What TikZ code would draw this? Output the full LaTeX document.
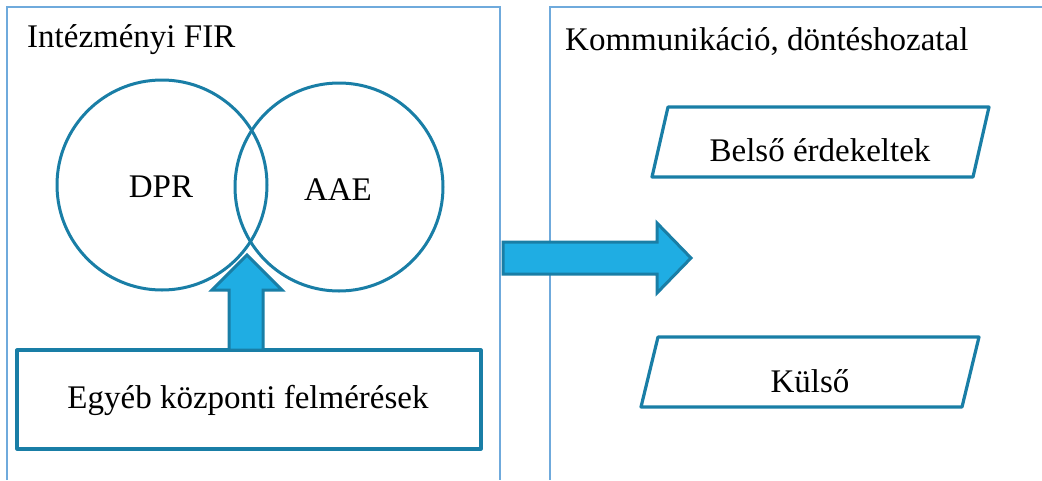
\documentclass[tikz,border=0pt]{standalone}
\usepackage{fontspec}
\setmainfont{Liberation Serif}
\begin{document}
\begin{tikzpicture}[x=1pt,y=-1pt,
  panelline/.style={draw=panelblue,line width=1.6pt},
  ring/.style={draw=darkblue,line width=3pt},
  boxline/.style={draw=darkblue,line width=3.2pt,line join=round},
  blockarrow/.style={fill=arrowfill,draw=darkblue,line width=3pt,line join=miter},
  lbl/.style={font=\fontsize{33}{39}\selectfont,inner sep=0pt}]
\definecolor{panelblue}{HTML}{6FAADC}
\definecolor{darkblue}{HTML}{197EA6}
\definecolor{arrowfill}{HTML}{1FADE3}
\useasboundingbox (0,0) rectangle (1042,480);

% two open panels
\draw[panelline] (7,480) -- (7,7) -- (500,7) -- (500,480);
\draw[panelline] (550,480) -- (550,7) -- (1042,7);
\node[lbl,anchor=base west] (fir) at (27,47) {Intézményi FIR};
\node[lbl,anchor=base west] (komm) at (565,50) {Kommunikáció, döntéshozatal};

% overlapping circles
\draw[ring] (162,185) circle (105);
\draw[ring] (339,187) circle (104);
\node[lbl] (dpr) at (161,187) {DPR};
\node[lbl] (aae) at (338,190) {AAE};

% bottom box with upward arrow
\draw[boxline] (17,350) rectangle (481,449);
\node[lbl] (egyeb) at (248,400) {Egyéb központi felmérések};
\draw[blockarrow] (229,350) -- (229,290) -- (212,290) -- (247,255)
  -- (282,290) -- (263,290) -- (263,350) -- cycle;

% arrow between panels
\draw[blockarrow] (503,242) -- (657,242) -- (657,223) -- (691,258)
  -- (657,293) -- (657,274) -- (503,274) -- cycle;

% stakeholder parallelograms
\draw[boxline] (668,107) -- (989,107) -- (973,177) -- (652,177) -- cycle;
\node[lbl] (belso) at (820,150) {Belső érdekeltek};
\draw[boxline] (658,337) -- (979,337) -- (962,407) -- (641,407) -- cycle;
\node[lbl] (kulso) at (810,381) {Külső};
\end{tikzpicture}
\end{document}
